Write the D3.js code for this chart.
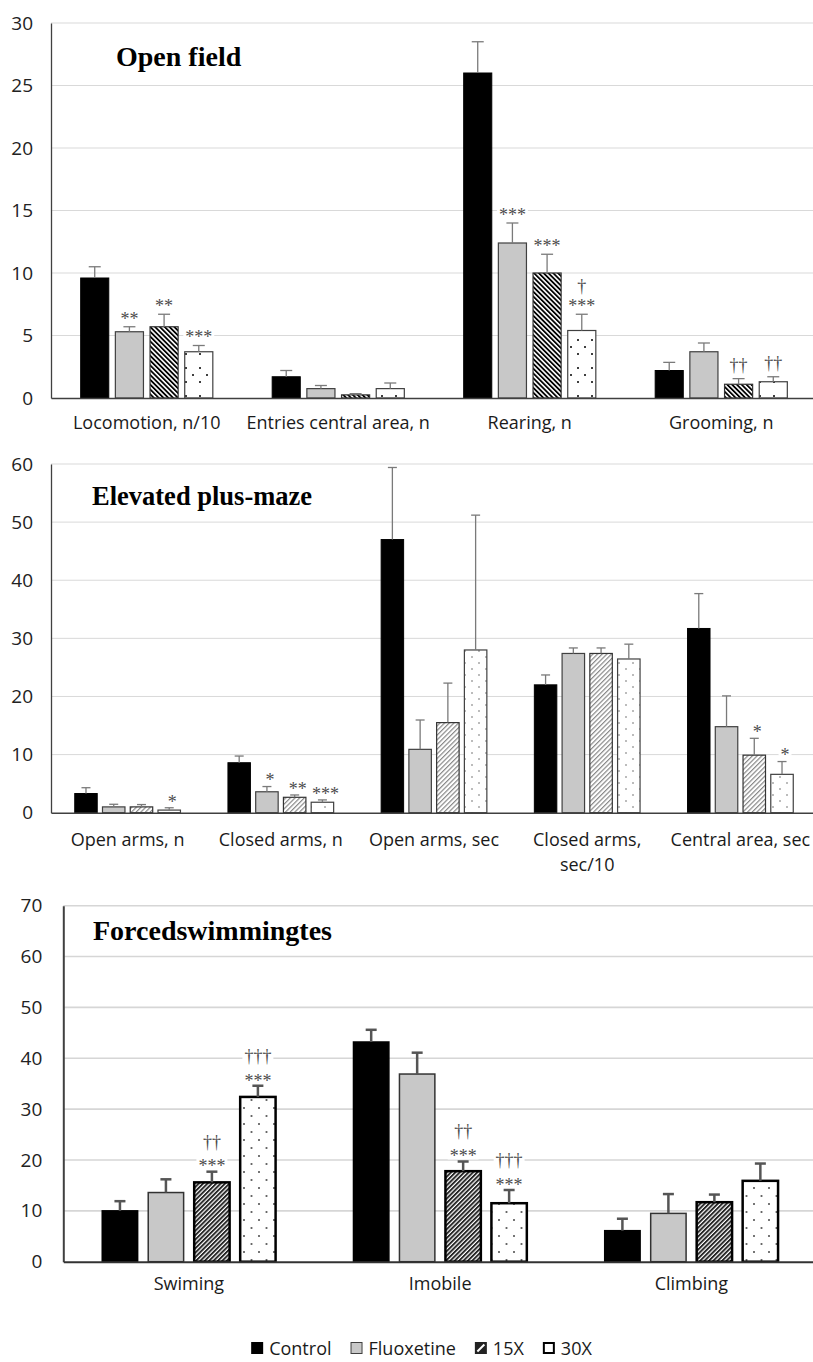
<!DOCTYPE html>
<html>
<head>
<meta charset="utf-8">
<script src="https://cdn.jsdelivr.net/npm/d3@7"></script>
<style>
  body { margin: 0; background: #fff; }
  svg { display: block; }
  .marks { opacity: 0.99; }
</style>
</head>
<body>
<svg id="chart" width="813" height="1362"></svg>
<script>
// ---------- data ----------
const seriesNames = ["Control", "Fluoxetine", "15X", "30X"];

// Open field
const ofCategories = ["Locomotion, n/10", "Entries central area, n", "Rearing, n", "Grooming, n"];
const ofTicks = [0, 5, 10, 15, 20, 25, 30];
const ofControl = [9.6, 1.7, 26.0, 2.2];
const ofControlSem = [0.9, 0.5, 2.5, 0.65];
const ofFluoxetine = [5.3, 0.75, 12.4, 3.7];
const ofFluoxetineSem = [0.4, 0.25, 1.6, 0.7];
const of15X = [5.7, 0.25, 10.0, 1.1];
const of15XSem = [1.0, 0.1, 1.5, 0.45];
const of30X = [3.7, 0.75, 5.4, 1.3];
const of30XSem = [0.5, 0.45, 1.3, 0.4];
const ofFluoxetineMarks = ["**", "", "***", ""];
const of15XMarks = ["**", "", "***", "††"];
const of30XMarks = ["***", "", "†\n***", "††"];

// Elevated plus-maze
const epmCategories = ["Open arms, n", "Closed arms, n", "Open arms, sec", "Closed arms, sec/10", "Central area, sec"];
const epmTicks = [0, 10, 20, 30, 40, 50, 60];
const epmControl = [3.3, 8.6, 47.0, 22.0, 31.7];
const epmControlSem = [1.0, 1.15, 12.4, 1.7, 6.0];
const epmFluoxetine = [1.0, 3.6, 10.9, 27.4, 14.8];
const epmFluoxetineSem = [0.45, 0.9, 5.05, 0.95, 5.3];
const epm15X = [1.0, 2.65, 15.5, 27.4, 9.9];
const epm15XSem = [0.4, 0.4, 6.8, 0.95, 2.9];
const epm30X = [0.45, 1.8, 28.0, 26.45, 6.6];
const epm30XSem = [0.4, 0.4, 23.2, 2.55, 2.2];
const epmFluoxetineMarks = ["", "*", "", "", ""];
const epm15XMarks = ["", "**", "", "", "*"];
const epm30XMarks = ["*", "***", "", "", "*"];

// Forced swimming test
const fstCategories = ["Swiming", "Imobile", "Climbing"];
const fstTicks = [0, 10, 20, 30, 40, 50, 60, 70];
const fstControl = [10.0, 43.2, 6.1];
const fstControlSem = [1.9, 2.4, 2.35];
const fstFluoxetine = [13.6, 36.9, 9.5];
const fstFluoxetineSem = [2.6, 4.2, 3.8];
const fst15X = [15.6, 17.8, 11.7];
const fst15XSem = [2.1, 1.9, 1.5];
const fst30X = [32.4, 11.5, 15.9];
const fst30XSem = [2.2, 2.6, 3.4];
const fst15XMarks = ["††\n***", "††\n***", ""];
const fst30XMarks = ["†††\n***", "†††\n***", ""];

// ---------- drawing ----------
const SANS = "'Open Sans', 'Noto Sans', sans-serif";
const SERIF = "'Liberation Serif', 'DejaVu Serif', serif";
const svg = d3.select("#chart");
const defs = svg.append("defs");

function stripePattern(id, period, lineW, color, angle) {
  const p = defs.append("pattern").attr("id", id)
    .attr("patternUnits", "userSpaceOnUse")
    .attr("width", period).attr("height", 10)
    .attr("patternTransform", `rotate(${angle})`);
  p.append("rect").attr("width", period).attr("height", 10).attr("fill", "#fff");
  p.append("rect").attr("width", lineW).attr("height", 10).attr("fill", color);
}
function dotPattern(id, w, h, dots, size, color) {
  const p = defs.append("pattern").attr("id", id)
    .attr("patternUnits", "userSpaceOnUse")
    .attr("width", w).attr("height", h);
  p.append("rect").attr("width", w).attr("height", h).attr("fill", "#fff");
  dots.forEach(([cx, cy]) => p.append("rect")
    .attr("x", cx - size / 2).attr("y", cy - size / 2)
    .attr("width", size).attr("height", size).attr("fill", color));
}

stripePattern("ofStripe", 3.4, 1.8, "#000", -45);
dotPattern("ofDots", 14, 28, [[4, 4], [4, 18], [11, 11]], 1.8, "#111");
stripePattern("epmStripe", 3.3, 1.2, "#8a8a8a", 45);
dotPattern("epmDots", 14, 12, [[3, 3], [10, 9]], 1.5, "#888");
stripePattern("fstStripe", 3.1, 1.9, "#262626", 45);
dotPattern("fstDots", 15, 16, [[4, 4], [11.5, 12]], 1.8, "#555");

function wrapLabel(textSel, str, maxW, lineH) {
  const words = str.split(" ");
  let line = [];
  let tspan = textSel.append("tspan").attr("x", textSel.attr("x")).attr("dy", 0);
  words.forEach(w => {
    line.push(w);
    tspan.text(line.join(" "));
    if (tspan.node().getComputedTextLength() > maxW && line.length > 1) {
      line.pop();
      tspan.text(line.join(" "));
      line = [w];
      tspan = textSel.append("tspan").attr("x", textSel.attr("x")).attr("dy", lineH).text(w);
    }
  });
}

function drawPanel(cfg) {
  const g = svg.append("g");
  const y = d3.scaleLinear().domain([0, cfg.yMax]).range([cfg.bottom, cfg.top]);
  const x0 = d3.scaleBand().domain(cfg.categories).range([cfg.left, cfg.right]);
  const innerW = x0.bandwidth() * 0.69;
  const x1 = d3.scaleBand().domain(seriesNames)
    .range([-innerW / 2, innerW / 2]).paddingInner(cfg.barPad);

  // gridlines
  g.append("g").selectAll("line")
    .data(cfg.ticks.filter(t => t > 0)).join("line")
    .attr("x1", cfg.left).attr("x2", cfg.right)
    .attr("y1", d => y(d)).attr("y2", d => y(d))
    .attr("stroke", cfg.gridColor).attr("stroke-width", cfg.gridWidth);

  // y axis
  const ya = g.append("g").attr("transform", `translate(${cfg.left},0)`)
    .call(d3.axisLeft(y).tickValues(cfg.ticks).tickSize(0).tickSizeOuter(0).tickPadding(cfg.tickPad));
  ya.select(".domain").attr("stroke", cfg.axisColor).attr("stroke-width", cfg.axisWidth);
  ya.selectAll(".tick text")
    .attr("font-family", SANS).attr("font-size", 19).attr("fill", "#222");

  // bars
  cfg.series.forEach((s, si) => {
    const sg = g.append("g");
    sg.selectAll("rect").data(cfg.categories.map((c, i) => ({ c, v: s.values[i] })))
      .join("rect")
      .attr("x", d => x0(d.c) + x0.bandwidth() / 2 + x1(s.name))
      .attr("y", d => y(d.v))
      .attr("width", x1.bandwidth())
      .attr("height", d => y(0) - y(d.v))
      .attr("fill", cfg.fills[si])
      .attr("stroke", cfg.strokes[si])
      .attr("stroke-width", cfg.strokeWidths[si]);
  });

  // x axis line
  const xa = g.append("g").attr("transform", `translate(0,${cfg.bottom})`)
    .call(d3.axisBottom(x0).tickSize(0).tickSizeOuter(0).tickFormat(""));
  xa.select(".domain").attr("stroke", cfg.baseColor).attr("stroke-width", cfg.baseWidth);

  // error bars
  cfg.series.forEach(s => {
    cfg.categories.forEach((c, i) => {
      const cx = x0(c) + x0.bandwidth() / 2 + x1(s.name) + x1.bandwidth() / 2;
      const top = y(s.values[i] + s.sem[i]);
      g.append("line").attr("x1", cx).attr("x2", cx)
        .attr("y1", y(s.values[i])).attr("y2", top)
        .attr("stroke", cfg.errColor).attr("stroke-width", cfg.errWidth);
      g.append("line").attr("x1", cx - cfg.capW / 2).attr("x2", cx + cfg.capW / 2)
        .attr("y1", top).attr("y2", top)
        .attr("stroke", cfg.errColor).attr("stroke-width", cfg.errWidth);
    });
  });

  // significance marks, each on a small white backing box
  const mg = g.append("g").attr("class", "marks");
  cfg.series.forEach(s => {
    if (!s.marks) return;
    cfg.categories.forEach((c, i) => {
      const mark = s.marks[i];
      if (!mark) return;
      const cx = x0(c) + x0.bandwidth() / 2 + x1(s.name) + x1.bandwidth() / 2;
      const top = y(s.values[i] + s.sem[i]);
      const lines = mark.split("\n").reverse();
      let center = top - (lines[0].includes("*") ? cfg.markGap : cfg.daggerGap);
      lines.forEach((ln, li) => {
        if (li > 0) center -= cfg.lineGap;
        const isStar = ln.includes("*");
        const bg = mg.append("rect").attr("fill", "#fff");
        const t = mg.append("text")
          .attr("x", cx + cfg.markDx).attr("y", center + (isStar ? 8.8 : 4.9))
          .attr("text-anchor", "middle")
          .attr("font-family", SERIF).attr("font-size", 18)
          .attr("fill", "#4a4a4a")
          .text(ln);
        const bb = t.node().getBBox();
        bg.attr("x", bb.x - 2).attr("y", center - 6).attr("width", bb.width + 4).attr("height", 12);
      });
    });
  });

  // category labels
  cfg.categories.forEach(c => {
    const t = g.append("text")
      .attr("x", x0(c) + x0.bandwidth() / 2)
      .attr("y", cfg.bottom + cfg.labelDy)
      .attr("text-anchor", "middle")
      .attr("font-family", SANS).attr("font-size", 18).attr("fill", "#1a1a1a");
    wrapLabel(t, c, x0.bandwidth(), 25);
  });

  // panel title
  g.append("text").attr("x", cfg.titleX).attr("y", cfg.titleY)
    .attr("font-family", SERIF).attr("font-weight", "bold")
    .attr("font-size", cfg.titleSize).attr("fill", "#000")
    .text(cfg.title);
}

const thinStrokes = ["#000", "#404040", "#333", "#404040"];

drawPanel({
  title: "Open field", titleX: 116, titleY: 66, titleSize: 28,
  categories: ofCategories, ticks: ofTicks, yMax: 30,
  left: 51, right: 817, top: 23, bottom: 398,
  series: [
    { name: "Control", values: ofControl, sem: ofControlSem },
    { name: "Fluoxetine", values: ofFluoxetine, sem: ofFluoxetineSem, marks: ofFluoxetineMarks },
    { name: "15X", values: of15X, sem: of15XSem, marks: of15XMarks },
    { name: "30X", values: of30X, sem: of30XSem, marks: of30XMarks }
  ],
  fills: ["#000", "#c8c8c8", "url(#ofStripe)", "url(#ofDots)"],
  strokes: thinStrokes, strokeWidths: [1, 1.2, 1.2, 1.2],
  barPad: 0.19,
  gridColor: "#d9d9d9", gridWidth: 1,
  axisColor: "#404040", axisWidth: 1.3, baseColor: "#404040", baseWidth: 1.5,
  tickPad: 18,
  errColor: "#7a7a7a", errWidth: 1.3, capW: 12,
  markGap: 11, daggerGap: 13, lineGap: 16, markDx: 0,
  labelDy: 31
});

drawPanel({
  title: "Elevated plus-maze", titleX: 92, titleY: 505, titleSize: 26.5,
  categories: epmCategories, ticks: epmTicks, yMax: 60,
  left: 51, right: 817, top: 464, bottom: 812.7,
  series: [
    { name: "Control", values: epmControl, sem: epmControlSem },
    { name: "Fluoxetine", values: epmFluoxetine, sem: epmFluoxetineSem, marks: epmFluoxetineMarks },
    { name: "15X", values: epm15X, sem: epm15XSem, marks: epm15XMarks },
    { name: "30X", values: epm30X, sem: epm30XSem, marks: epm30XMarks }
  ],
  fills: ["#000", "#c8c8c8", "url(#epmStripe)", "url(#epmDots)"],
  strokes: thinStrokes, strokeWidths: [1, 1.2, 1.2, 1.2],
  barPad: 0.19,
  gridColor: "#d9d9d9", gridWidth: 1,
  axisColor: "#404040", axisWidth: 1.3, baseColor: "#404040", baseWidth: 1.5,
  tickPad: 18,
  errColor: "#7a7a7a", errWidth: 1.3, capW: 9,
  markGap: 9, daggerGap: 12, lineGap: 16, markDx: 3,
  labelDy: 33
});

drawPanel({
  title: "Forcedswimmingtes", titleX: 93, titleY: 940, titleSize: 28,
  categories: fstCategories, ticks: fstTicks, yMax: 70,
  left: 63.3, right: 817, top: 905.7, bottom: 1261.7,
  series: [
    { name: "Control", values: fstControl, sem: fstControlSem },
    { name: "Fluoxetine", values: fstFluoxetine, sem: fstFluoxetineSem },
    { name: "15X", values: fst15X, sem: fst15XSem, marks: fst15XMarks },
    { name: "30X", values: fst30X, sem: fst30XSem, marks: fst30XMarks }
  ],
  fills: ["#000", "#c8c8c8", "url(#fstStripe)", "url(#fstDots)"],
  strokes: ["#000", "#333", "#000", "#000"], strokeWidths: [1.5, 1.5, 2.5, 2.5],
  barPad: 0.23,
  gridColor: "#d6d6d6", gridWidth: 1.6,
  axisColor: "#404040", axisWidth: 2, baseColor: "#333", baseWidth: 2,
  tickPad: 21,
  errColor: "#555", errWidth: 2.5, capW: 11,
  markGap: 8, daggerGap: 12, lineGap: 21, markDx: 0,
  labelDy: 28
});

// ---------- legend ----------
const legend = svg.append("g");
const swatch = 12, swGap = 6, itemGap = 19, legendY = 1348;
const items = legend.selectAll("g").data(seriesNames).join("g");
items.append("text")
  .attr("x", swatch + swGap).attr("y", legendY + 6.5)
  .attr("font-family", SANS).attr("font-size", 18).attr("fill", "#1a1a1a")
  .text(d => d);
const widths = [];
items.each(function () {
  widths.push(swatch + swGap + d3.select(this).select("text").node().getComputedTextLength());
});
const totalW = d3.sum(widths) + itemGap * (widths.length - 1);
let lx = 421.5 - totalW / 2;
items.each(function (d, i) {
  const it = d3.select(this).attr("transform", `translate(${lx},0)`);
  lx += widths[i] + itemGap;
  const sy = legendY - swatch / 2;
  if (d === "Control") {
    it.append("rect").attr("x", 0).attr("y", sy).attr("width", swatch).attr("height", swatch).attr("fill", "#000");
  } else if (d === "Fluoxetine") {
    it.append("rect").attr("x", 0.5).attr("y", sy + 0.5).attr("width", swatch - 1).attr("height", swatch - 1)
      .attr("fill", "#c8c8c8").attr("stroke", "#404040").attr("stroke-width", 1);
  } else if (d === "15X") {
    it.append("rect").attr("x", 0).attr("y", sy).attr("width", swatch).attr("height", swatch).attr("fill", "#222");
    it.append("line").attr("x1", 2.5).attr("y1", sy + swatch - 2.5).attr("x2", swatch - 2.5).attr("y2", sy + 2.5)
      .attr("stroke", "#fff").attr("stroke-width", 2);
  } else {
    it.append("rect").attr("x", 1).attr("y", sy + 1).attr("width", swatch - 2).attr("height", swatch - 2)
      .attr("fill", "#fff").attr("stroke", "#000").attr("stroke-width", 2);
  }
});
</script>
</body>
</html>
